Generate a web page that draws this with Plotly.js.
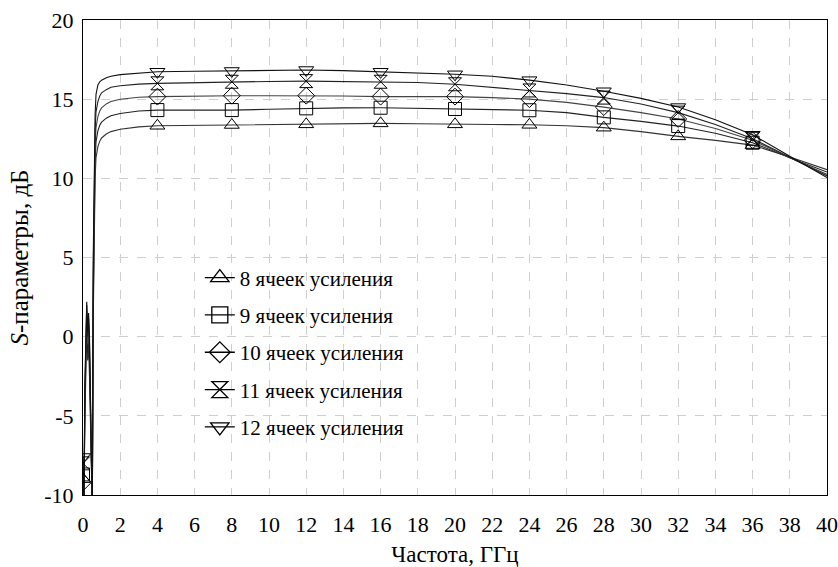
<!DOCTYPE html>
<html>
<head>
<meta charset="utf-8">
<script src="https://cdn.plot.ly/plotly-3.0.1.min.js"></script>
<style>
html,body{margin:0;padding:0;background:#fff;}
#chart{width:838px;height:567px;}
#chart svg text{font-family:"Times New Roman", "Liberation Serif", serif !important;}
</style>
</head>
<body>
<div id="chart"></div>
<script>
// Frequency grid, GHz
const freq = [0, 0.05, 0.1, 0.15, 0.2, 0.25, 0.3, 0.35, 0.4, 0.45, 0.5, 0.55, 0.6, 0.65, 0.7, 0.8, 0.9, 1.0, 1.25, 1.5, 2, 3, 4, 6, 8, 10, 12, 14, 16, 18, 20, 22, 24, 26, 28, 30, 32, 34, 36, 38, 40];
// Frequencies where markers are drawn
const markerFreq = [0, 4, 8, 12, 16, 20, 24, 28, 32, 36];

const seriesNames = ["8 ячеек усиления", "9 ячеек усиления", "10 ячеек усиления", "11 ячеек усиления", "12 ячеек усиления"];
const seriesSymbols = ["triangle-up-open", "square-open", "diamond-open", "hourglass-open", "triangle-down-open"];

const gain8 = [-9.0, -10.5, -5.5, -2.0, 0.5, -1.5, -0.5, -2.5, -5.0, -8.0, -11, 1.0, 7.0, 10.0, 11.3, 12.0, 12.35, 12.55, 12.8, 12.95, 13.1, 13.25,
  13.32, 13.35, 13.37, 13.39, 13.41, 13.45, 13.47, 13.45, 13.41, 13.4, 13.38, 13.32, 13.2, 12.95, 12.65, 12.4, 12.1, 11.35, 10.55];
const gain9 = [-8.7, -10.5, -4.5, -1.0, 1.2, -1.0, 0.3, -1.5, -4.5, -7.5, -11, 2.0, 8.0, 11.0, 12.3, 13.0, 13.35, 13.55, 13.8, 13.95, 14.1, 14.25,
  14.31, 14.3, 14.31, 14.36, 14.42, 14.45, 14.46, 14.43, 14.38, 14.35, 14.3, 14.15, 13.85, 13.6, 13.3, 12.85, 12.25, 11.3, 10.4];
const gain10 = [-9.2, -10.5, -4.0, -0.5, 1.6, -0.5, 0.8, -1.0, -4.0, -7.0, -11, 3.0, 9.0, 12.0, 13.2, 13.9, 14.25, 14.45, 14.7, 14.85, 15.0, 15.12,
  15.16, 15.2, 15.22, 15.22, 15.22, 15.2, 15.16, 15.16, 15.16, 15.1, 15.0, 14.8, 14.5, 14.15, 13.75, 13.15, 12.4, 11.3, 10.25];
const gain11 = [-8.0, -10.5, -3.5, 0.0, 2.0, 0.0, 1.2, -0.5, -3.5, -6.5, -11, 4.0, 10.0, 13.0, 14.2, 14.85, 15.2, 15.4, 15.6, 15.75, 15.85, 15.95,
  16.0, 16.05, 16.1, 16.12, 16.14, 16.12, 16.1, 16.05, 15.94, 15.75, 15.55, 15.35, 15.1, 14.7, 14.15, 13.4, 12.5, 11.35, 10.15];
const gain12 = [-7.6, -10.5, -3.0, 0.5, 2.2, 0.3, 1.5, 0.0, -3.0, -6.0, -11, 5.0, 11.0, 14.0, 15.3, 15.9, 16.1, 16.2, 16.35, 16.45, 16.55, 16.65,
  16.73, 16.76, 16.78, 16.8, 16.84, 16.8, 16.73, 16.65, 16.57, 16.45, 16.2, 15.9, 15.5, 15.05, 14.5, 13.7, 12.75, 11.4, 10.05];

const xTicks = [0, 2, 4, 6, 8, 10, 12, 14, 16, 18, 20, 22, 24, 26, 28, 30, 32, 34, 36, 38, 40];
const yTicks = [-10, -5, 0, 5, 10, 15, 20];

const allGains = [gain8, gain9, gain10, gain11, gain12];
const lineColors = ["#333", "#222", "#444", "#222", "#111"];
const serif = "Times New Roman";

const traces = [];
// curves
allGains.forEach((g, i) => {
  traces.push({
    x: freq, y: g, type: "scatter", mode: "lines", showlegend: false, hoverinfo: "skip",
    line: {color: lineColors[i], width: 1.1}
  });
});
// markers (selected from the curve data at marker frequencies)
allGains.forEach((g, i) => {
  const mx = [], my = [];
  freq.forEach((f, k) => { if (markerFreq.includes(f)) { mx.push(f); my.push(g[k]); } });
  traces.push({
    x: mx, y: my, type: "scatter", mode: "markers", showlegend: false, cliponaxis: true,
    marker: {symbol: seriesSymbols[i], size: 13, color: "#000", line: {color: "#000", width: 1}}
  });
});
// legend entries
seriesNames.forEach((n, i) => {
  traces.push({
    x: [null], y: [null], type: "scatter", mode: "lines+markers", name: n, legendgroup: "g" + i,
    line: {color: "#000", width: 1.3},
    marker: {symbol: seriesSymbols[i], size: 16, color: "#000", line: {color: "#000", width: 1.3}}
  });
});

const layout = {
  width: 838, height: 567,
  margin: {l: 83, r: 11, t: 20, b: 72},
  paper_bgcolor: "#fff", plot_bgcolor: "#fff",
  font: {family: serif, color: "#000"},
  showlegend: true,
  legend: {
    x: 0.157, y: 0.50, xanchor: "left", yanchor: "top",
    bgcolor: "rgba(0,0,0,0)", borderwidth: 0,
    font: {family: serif, size: 21, color: "#000"},
    tracegroupgap: 7, traceorder: "grouped", itemsizing: "trace"
  },
  xaxis: {
    range: [0, 40], tickvals: xTicks, ticktext: xTicks.map(String),
    showgrid: true, gridcolor: "#cfcfcf", griddash: "dash", gridwidth: 1,
    zeroline: false, showline: true, linecolor: "#000", linewidth: 1, mirror: true,
    ticks: "", ticklabelstandoff: 10,
    tickfont: {family: serif, size: 22, color: "#000"},
    title: {text: "Частота, ГГц", font: {family: serif, size: 23, color: "#000"}, standoff: 24}
  },
  yaxis: {
    range: [-10, 20], tickvals: yTicks, ticktext: yTicks.map(String),
    showgrid: true, gridcolor: "#cfcfcf", griddash: "dash", gridwidth: 1,
    zeroline: false, showline: true, linecolor: "#000", linewidth: 1, mirror: true,
    ticks: "", ticklabelstandoff: 4,
    tickfont: {family: serif, size: 22, color: "#000"},
    title: {text: "<i>S</i>-параметры, дБ", font: {family: serif, size: 25, color: "#000"}, standoff: 8}
  }
};

Plotly.newPlot("chart", traces, layout, {staticPlot: true});
</script>
</body>
</html>
